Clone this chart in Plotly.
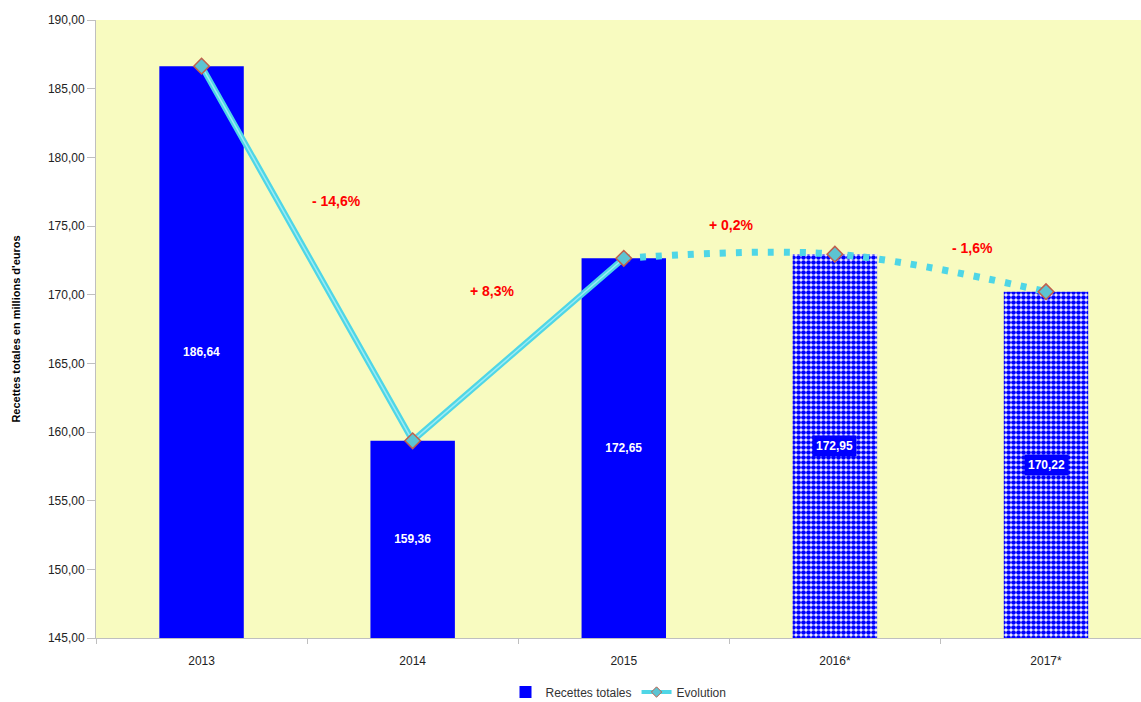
import plotly.graph_objects as go

years = ["2013", "2014", "2015", "2016*", "2017*"]
recettes = [186.64, 159.36, 172.65, 172.95, 170.22]
labels = ["186,64", "159,36", "172,65", "172,95", "170,22"]
projected = [False, False, False, True, True]
evol_labels = ["- 14,6%", "+ 8,3%", "+ 0,2%", "- 1,6%"]
evol_pos_x = [0.64, 1.38, 2.51, 3.65]
evol_pos_y = [176.8, 170.3, 175.1, 173.4]
BASE = 145

BLUE = "#0000ff"
CYAN = "#4fd6e6"
BG = "#f8fbc0"

fig = go.Figure()

real_x = [y for y, p in zip(years, projected) if not p]
real_v = [v for v, p in zip(recettes, projected) if not p]
real_l = [l for l, p in zip(labels, projected) if not p]
proj_x = [y for y, p in zip(years, projected) if p]
proj_v = [v for v, p in zip(recettes, projected) if p]

fig.add_trace(go.Bar(x=real_x, y=[v - BASE for v in real_v], base=BASE, width=0.4,
                     marker=dict(color=BLUE, line=dict(width=0)),
                     name="Recettes totales",
                     text=["<b>" + l + "</b>" for l in real_l], textposition="inside",
                     insidetextanchor="middle", textangle=0,
                     textfont=dict(color="white", size=12, family="Liberation Sans")))
fig.add_trace(go.Bar(x=proj_x, y=[v - BASE for v in proj_v], base=BASE, width=0.4,
                     showlegend=False,
                     marker=dict(color="white", line=dict(width=0),
                                 pattern=dict(shape=".", fgcolor=BLUE, bgcolor="white",
                                              size=5, solidity=0.7, fgopacity=1))))

# dotted projected evolution
fig.add_trace(go.Scatter(x=years[2:], y=recettes[2:], mode="lines",
                         line=dict(color=CYAN, width=7, dash="6px,10px", shape="spline"),
                         showlegend=False, hoverinfo="skip"))
# solid evolution
fig.add_trace(go.Scatter(x=years[:3], y=recettes[:3], mode="lines",
                         line=dict(color=CYAN, width=6),
                         showlegend=False, hoverinfo="skip"))
fig.add_trace(go.Scatter(x=years[:3], y=recettes[:3], mode="lines",
                         line=dict(color="#9debf5", width=1.5),
                         showlegend=False, hoverinfo="skip"))
fig.add_trace(go.Scatter(x=years, y=recettes, mode="markers",
                         marker=dict(symbol="diamond", size=12, color="#5cc4d2",
                                     line=dict(color="#c0604d", width=1.5)),
                         showlegend=False))
# legend entry
fig.add_trace(go.Scatter(x=[None], y=[None], mode="lines+markers", name="Evolution",
                         line=dict(color=CYAN, width=4),
                         marker=dict(symbol="diamond", size=8, color="#5cc4d2",
                                     line=dict(color="#c0604d", width=1))))

for x, v, lab, p in zip(years, recettes, labels, projected):
    if p:
        fig.add_annotation(x=x, y=(BASE + v) / 2, text="<b>" + lab + "</b>", showarrow=False,
                           font=dict(color="white", size=12, family="Liberation Sans"),
                           bgcolor=BLUE, borderpad=3)

for t, x, y in zip(evol_labels, evol_pos_x, evol_pos_y):
    fig.add_annotation(x=x, y=y, text="<b>" + t + "</b>", showarrow=False, xref="x", yref="y",
                       font=dict(color="#ff0000", size=14, family="Liberation Sans"))

fig.update_layout(
    width=1141, height=702,
    margin=dict(l=96, r=0, t=20, b=64),
    paper_bgcolor="white", plot_bgcolor=BG,
    font=dict(family="Liberation Sans", size=12, color="#333333"),
    barmode="overlay",
    separators=",.",
    uniformtext=dict(mode="show", minsize=12),
    legend=dict(orientation="h", x=0.5, xanchor="center", yref="container",
                y=0.0142, yanchor="middle",
                font=dict(size=12, color="#333333"), traceorder="normal"),
    xaxis=dict(type="category", categoryorder="array", categoryarray=years,
               range=[-0.5, 4.45], showline=True, linecolor="#bfbfbf", linewidth=1,
               ticks="outside", tickson="boundaries", ticklen=5, tickcolor="#bfbfbf",
               ticklabelstandoff=12,
               showgrid=False, automargin=False, tickfont=dict(size=12, color="#222222")),
    yaxis=dict(range=[BASE, 190], dtick=5, tickformat=".2f", showgrid=False, zeroline=False,
               showline=True, linecolor="#bfbfbf", linewidth=1, ticks="outside", ticklen=8,
               tickcolor="#bfbfbf", automargin=False, tickfont=dict(size=12, color="#222222"),
               title=dict(text="<b>Recettes totales en millions d'euros</b>",
                          font=dict(size=11, color="#000000"), standoff=25)),
    showlegend=True,
)

fig.write_html("out.html", config={"displayModeBar": False},
               post_script="document.body.style.margin='0';document.body.style.overflow='hidden';")
